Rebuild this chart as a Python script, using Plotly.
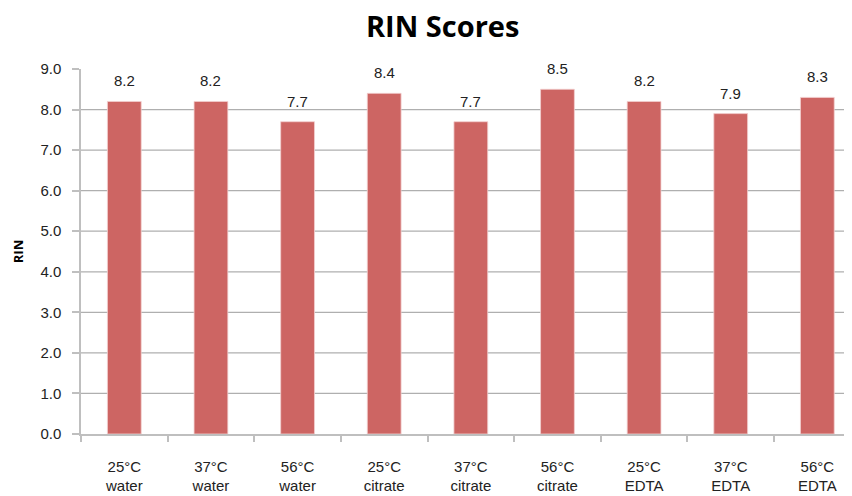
import plotly.graph_objects as go

categories = ["25°C<br>water", "37°C<br>water", "56°C<br>water",
              "25°C<br>citrate", "37°C<br>citrate", "56°C<br>citrate",
              "25°C<br>EDTA", "37°C<br>EDTA", "56°C<br>EDTA"]
rin_values = [8.2, 8.2, 7.7, 8.4, 7.7, 8.5, 8.2, 7.9, 8.3]
y_ticks = [0, 1, 2, 3, 4, 5, 6, 7, 8, 9]

BAR = "#CD6563"
GRID = "#AFAFAF"
AXIS = "#BFBFBF"
TXT = "#222222"

fig = go.Figure()
fig.add_trace(go.Bar(
    x=categories, y=rin_values, width=0.39,
    marker=dict(color=BAR, line=dict(color="#F2D0D0", width=0.8)),
))

for c, v in zip(categories, rin_values):
    fig.add_annotation(x=c, y=v, text=f"{v:.1f}", showarrow=False,
                       yanchor="bottom", yshift=10,
                       font=dict(family="Liberation Sans, Arial", size=15, color=TXT))

for t in y_ticks[1:-1]:
    fig.add_shape(type="line", xref="paper", x0=0, x1=1, yref="y", y0=t, y1=t,
                  line=dict(color=GRID, width=1.2), layer="below")

fig.update_layout(
    width=844, height=488,
    margin=dict(l=73, r=0, t=61, b=62, autoexpand=False),
    paper_bgcolor="white", plot_bgcolor="white",
    showlegend=False,
    title=dict(text="<b>RIN Scores</b>", x=0.515, xanchor="center", y=0.962, yanchor="middle",
               font=dict(family="Open Sans", size=29, color="black")),
    xaxis=dict(
        range=[-0.5, 8.4], showgrid=False, showline=True, linecolor=AXIS, linewidth=1.5,
        automargin=False,
        ticks="outside", tickson="boundaries", ticklen=6, tickcolor=AXIS, tickwidth=1.5,
        ticklabelstandoff=18,
        tickfont=dict(family="Liberation Sans, Arial", size=15, color=TXT),
    ),
    yaxis=dict(
        range=[0, 9], tickvals=y_ticks, ticktext=[f"{t:.1f}" for t in y_ticks],
        automargin=False,
        showgrid=False, zeroline=False, showline=True, linecolor=AXIS, linewidth=1.5,
        ticks="outside", ticklen=7, tickcolor=AXIS, tickwidth=1.5,
        ticklabelstandoff=8,
        tickfont=dict(family="Liberation Sans, Arial", size=15, color=TXT),
        title=dict(text="<b>RIN</b>", standoff=14,
                   font=dict(family="Open Sans", size=13, color="black")),
    ),
)

fig.write_html("out.html")
